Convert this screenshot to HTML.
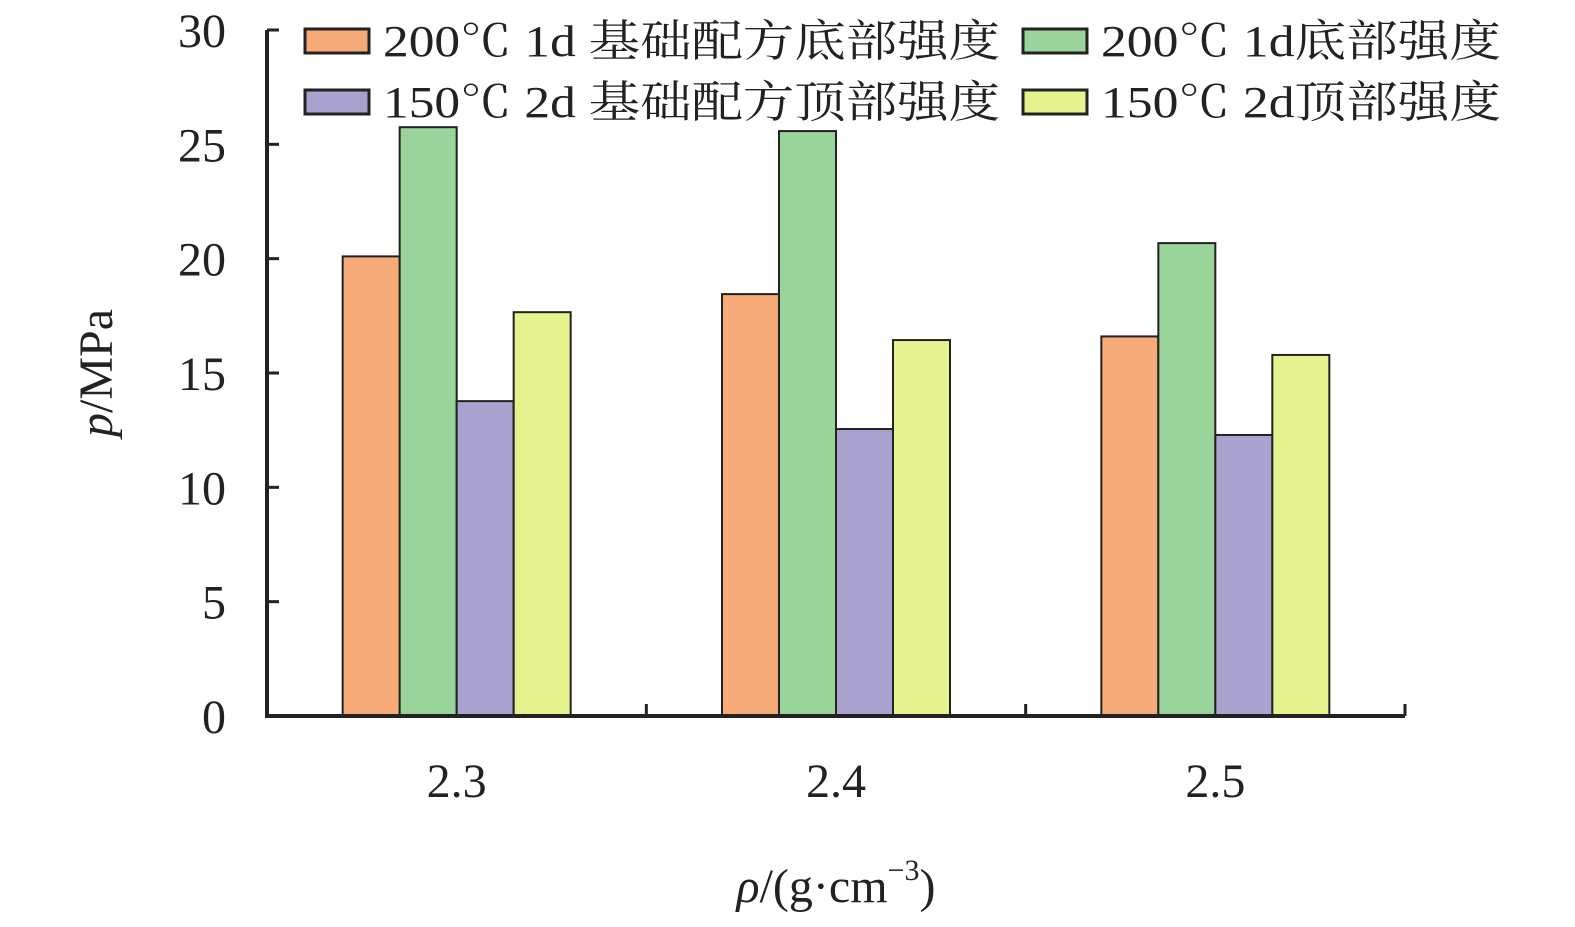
<!DOCTYPE html>
<html><head><meta charset="utf-8"><style>
body{margin:0;background:#fff;}
svg text{font-family:"Liberation Serif","Noto Serif CJK SC","Noto Sans CJK SC",serif;fill:#222;}
</style></head><body>
<svg id="chart" width="1575" height="922" xmlns="http://www.w3.org/2000/svg"></svg>
<script>
const categories=["2.3","2.4","2.5"];
const seriesNames=["200℃ 1d 基础配方底部强度","200℃ 1d底部强度","150℃ 2d 基础配方顶部强度","150℃ 2d顶部强度"];
const seriesA=[20.1,18.45,16.6];
const seriesB=[25.75,25.58,20.68];
const seriesC=[13.77,12.55,12.29];
const seriesD=[17.66,16.44,15.79];
const yTicks=[0,5,10,15,20,25,30];
const colors=["#F5AA78","#9AD49A","#A9A2CE","#E6F28E"];
const svg=document.getElementById('chart');
const NS="http://www.w3.org/2000/svg";
const x0=267,x1=1405,y0=716,yTop=30,yMax=30;
const y=v=>y0-(v/yMax)*(y0-yTop);
const gw=(x1-x0)/categories.length, bw=57;
function el(t,a,txt){const e=document.createElementNS(NS,t);for(const k in a)e.setAttribute(k,a[k]);if(txt!==undefined)e.textContent=txt;svg.appendChild(e);return e;}
const all=[seriesA,seriesB,seriesC,seriesD];
all.forEach((s,si)=>{s.forEach((v,ci)=>{
 const cx=x0+gw*(ci+0.5);
 const r=el('rect',{x:cx-2*bw+si*bw,y:y(v),width:bw,height:y0-y(v),fill:colors[si],stroke:"#222","stroke-width":2});
 
 
});});
let a=el('line',{x1:x0,y1:y0,x2:x0,y2:yTop,stroke:"#222","stroke-width":4});

a=el('line',{x1:x0-2,y1:y0,x2:x1,y2:y0,stroke:"#222","stroke-width":4});

yTicks.forEach(t=>{
 const l=el('line',{x1:x0,y1:y(t),x2:x0+12,y2:y(t),stroke:"#222","stroke-width":3});
 
 const tx=el('text',{x:226,y:y(t)+17,"text-anchor":"end","font-size":48},String(t));
 
});
categories.forEach((c,i)=>{
 const xt=x0+gw*(i+1);
 const l=el('line',{x1:xt,y1:y0,x2:xt,y2:y0-12,stroke:"#222","stroke-width":3});
 
 const tx=el('text',{x:x0+gw*(i+0.5),y:797,"text-anchor":"middle","font-size":48},c);
 
});
const lp=[[305,41],[1023,41],[305,102],[1023,102]];
const lw=[617,400,617,400];
seriesNames.forEach((n,i)=>{
 const r=el('rect',{x:lp[i][0],y:lp[i][1]-12,width:64,height:24,fill:colors[i],stroke:"#222","stroke-width":3});
 
 const t=el('text',{x:lp[i][0]+78,y:lp[i][1]+15,"font-size":44,textLength:lw[i],lengthAdjust:"spacingAndGlyphs"},n);
 
});
let yt=el('text',{transform:"translate(112,373) rotate(-90)","text-anchor":"middle","font-size":48});
yt.innerHTML='<tspan font-style="italic">p</tspan>/MPa';

let xt=el('text',{x:836,y:902,"text-anchor":"middle","font-size":48});
xt.innerHTML='<tspan font-style="italic">ρ</tspan>/(g·cm<tspan font-size="30" dy="-22">−3</tspan><tspan dy="22">)</tspan>';

</script>
</body></html>
